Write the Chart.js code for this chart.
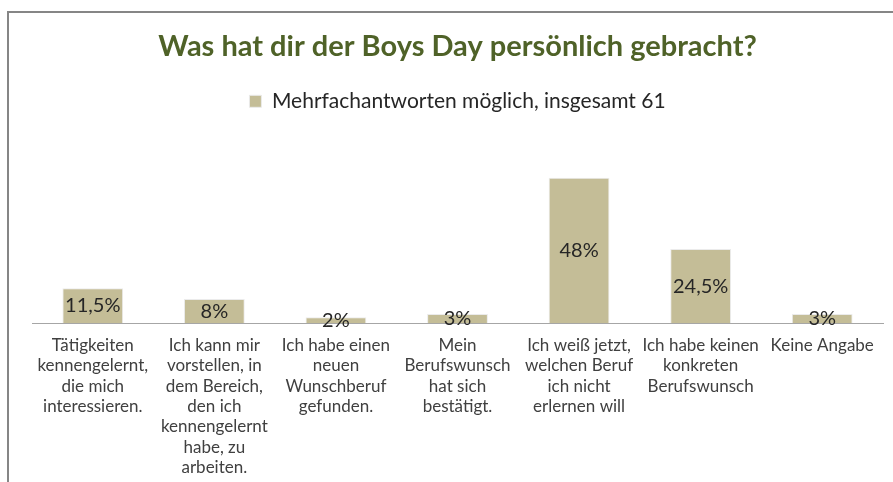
<!DOCTYPE html>
<html>
<head>
<meta charset="utf-8">
<script src="https://cdn.jsdelivr.net/npm/chart.js@4"></script>
<style>
  body { margin: 0; background: #fff; }
  #frame { position: absolute; left: 7px; top: 11px; width: 900px; height: 480px;
           border-left: 2px solid #868686; border-top: 2px solid #868686; }
  #wrap { position: absolute; left: 0; top: 0; width: 893px; height: 482px; }
</style>
</head>
<body>
<div id="frame"></div>
<div id="wrap"><canvas id="boysChart" width="893" height="482"></canvas></div>
<script>
// Antworten (Mehrfachnennung)
const categories = [
    ['Tätigkeiten', 'kennengelernt,', 'die mich', 'interessieren.'],
    ['Ich kann mir', 'vorstellen, in', 'dem Bereich,', 'den ich', 'kennengelernt', 'habe, zu', 'arbeiten.'],
    ['Ich habe einen', 'neuen', 'Wunschberuf', 'gefunden.'],
    ['Mein', 'Berufswunsch', 'hat sich', 'bestätigt.'],
    ['Ich weiß jetzt,', 'welchen Beruf', 'ich nicht', 'erlernen will'],
    ['Ich habe keinen', 'konkreten', 'Berufswunsch'],
    ['Keine Angabe']
];
const percentValues = [11.5, 8, 2, 3, 48, 24.5, 3];
const seriesName = 'Mehrfachantworten möglich, insgesamt 61';

// Prozentwerte mittig in die Balken schreiben
const barLabels = {
    id: 'barLabels',
    afterDatasetsDraw(chart) {
        const ctx = chart.ctx;
        const meta = chart.getDatasetMeta(0);
        ctx.save();
        ctx.font = '20px Lato';
        ctx.fillStyle = '#262626';
        ctx.textAlign = 'center';
        ctx.textBaseline = 'middle';
        meta.data.forEach((bar, i) => {
            const txt = percentValues[i].toLocaleString('de-DE') + '%';
            ctx.fillText(txt, bar.x, (bar.y + bar.base) / 2);
        });
        ctx.restore();
    }
};

const ctx = document.getElementById('boysChart').getContext('2d');
const chart = new Chart(ctx, {
    type: 'bar',
    data: {
        labels: categories,
        datasets: [{
            label: seriesName,
            data: percentValues,
            backgroundColor: '#c4bd97',
            borderColor: '#ebebeb',
            borderWidth: 1,
            categoryPercentage: 1,
            barPercentage: 0.5
        }]
    },
    options: {
        responsive: false,
        animation: false,
        layout: { padding: { left: 32, right: 10, bottom: -8 } },
        plugins: {
            title: {
                display: true,
                text: 'Was hat dir der Boys Day persönlich gebracht?',
                color: '#4f6228',
                font: { family: 'Lato', size: 29, weight: 'bold' },
                padding: { top: 29, bottom: 17 }
            },
            legend: {
                display: true,
                labels: {
                    color: '#262626',
                    font: { family: 'Lato', size: 21 },
                    boxWidth: 12,
                    boxHeight: 12
                }
            },
            tooltip: { enabled: false }
        },
        scales: {
            x: {
                grid: { display: false, drawTicks: false },
                border: { display: true, color: '#a6a6a6', width: 1 },
                ticks: {
                    color: '#404040',
                    font: { family: 'Lato', size: 17, lineHeight: 1.2 },
                    padding: 12,
                    maxRotation: 0,
                    autoSkip: false
                }
            },
            y: {
                display: false,
                min: 0,
                max: 66.5
            }
        }
    },
    plugins: [barLabels]
});
</script>
</body>
</html>
